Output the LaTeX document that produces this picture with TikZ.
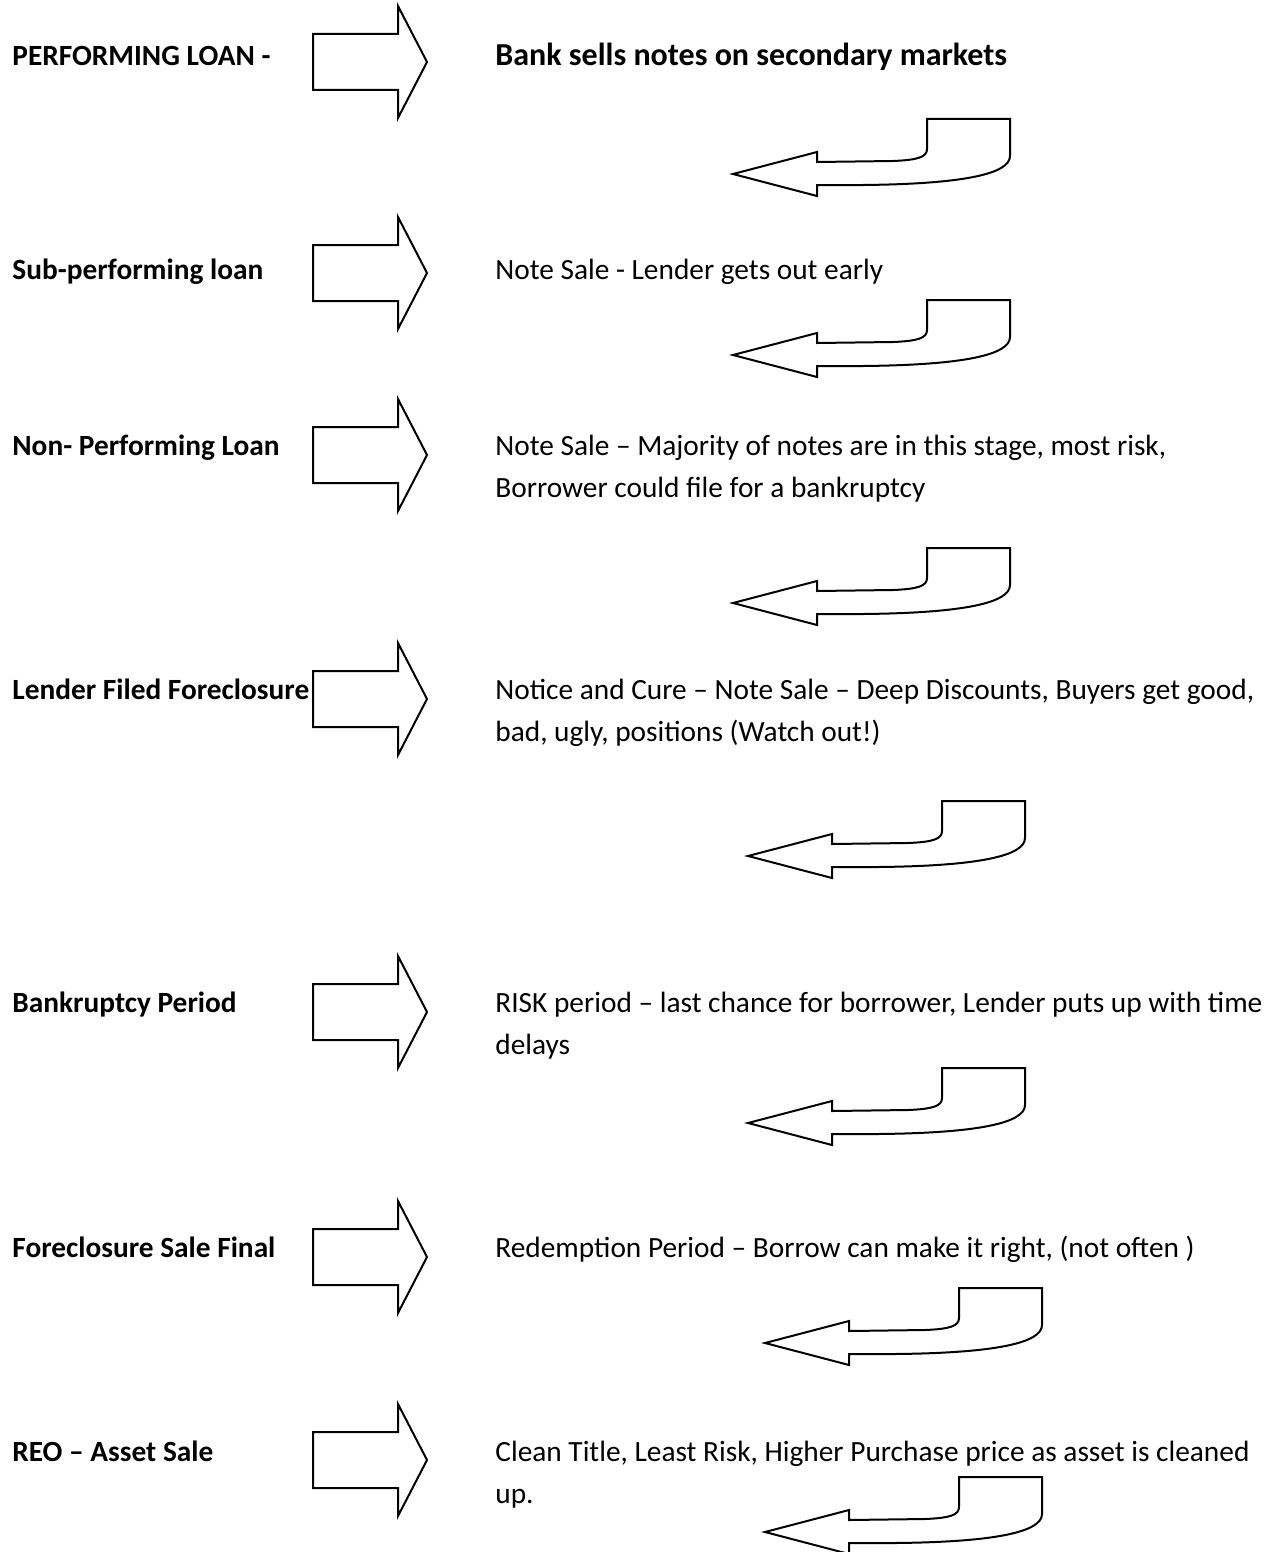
\documentclass[tikz,border=0pt]{standalone}
\usepackage{fontspec}
\setmainfont{Carlito}
\begin{document}
\begin{tikzpicture}[x=0.5pt,y=-0.5pt,
  shapeline/.style={draw=black,line width=1pt,line join=miter,fill=white},
  lbl/.style={anchor=base west,inner sep=0pt,font=\fontsize{14.67}{21}\selectfont\bfseries},
  desc/.style={anchor=base west,inner sep=0pt,font=\fontsize{14.67}{21}\selectfont},
  rarrow/.pic={\path[shapeline] (-114,-28) -- (-29,-28) -- (-29,-56) -- (0,0) -- (-29,56) -- (-29,28) -- (-114,28) -- cycle;},
  uturn/.pic={\path[shapeline] (0,0) -- (84,-22) -- (84,-12) -- (160,-13)
     .. controls (185,-14) and (194,-17) .. (194,-25) -- (194,-55) -- (277,-55) -- (277,-18)
     .. controls (277,0) and (230,10) .. (130,11) -- (84,11) -- (84,22) -- cycle;}
]
\useasboundingbox[fill=white] (0,0) rectangle (1267,1552);

% row 1
\node[lbl] (l1) at (12,66) {PERFORMING LOAN -};
\pic (r1) at (427,62) {rarrow};
\node[desc,font=\fontsize{16}{21}\selectfont\bfseries] (d1) at (495,66) {Bank sells notes on secondary markets};
\pic (c1) at (733,174) {uturn};

% row 2
\node[lbl] (l2) at (12,279) {Sub-performing loan};
\pic (r2) at (427,273) {rarrow};
\node[desc] (d2) at (495,279) {Note Sale - Lender gets out early};
\pic (c2) at (733,355) {uturn};

% row 3
\node[lbl] (l3) at (12,455) {Non- Performing Loan};
\pic (r3) at (427,455) {rarrow};
\node[desc] (d3) at (495,455) {\begin{tabular}[t]{@{}l@{}}Note Sale – Majority of notes are in this stage, most risk,\\Borrower could file for a bankruptcy\end{tabular}};
\pic (c3) at (733,603) {uturn};

% row 4
\node[lbl] (l4) at (12,699) {Lender Filed Foreclosure};
\pic (r4) at (427,699) {rarrow};
\node[desc] (d4) at (495,699) {\begin{tabular}[t]{@{}l@{}}Notice and Cure – Note Sale – Deep Discounts, Buyers get good,\\bad, ugly, positions (Watch out!)\end{tabular}};
\pic (c4) at (748,856) {uturn};

% row 5
\node[lbl] (l5) at (12,1012) {Bankruptcy Period};
\pic (r5) at (427,1012) {rarrow};
\node[desc] (d5) at (495,1012) {\begin{tabular}[t]{@{}l@{}}RISK period – last chance for borrower, Lender puts up with time\\delays\end{tabular}};
\pic (c5) at (748,1123) {uturn};

% row 6
\node[lbl] (l6) at (12,1257) {Foreclosure Sale Final};
\pic (r6) at (427,1257) {rarrow};
\node[desc] (d6) at (495,1257) {Redemption Period – Borrow can make it right, (not often )};
\pic (c6) at (765,1343) {uturn};

% row 7
\node[lbl] (l7) at (12,1461) {REO – Asset Sale};
\pic (r7) at (427,1460) {rarrow};
\node[desc] (d7) at (495,1461) {\begin{tabular}[t]{@{}l@{}}Clean Title, Least Risk, Higher Purchase price as asset is cleaned\\up.\end{tabular}};
\pic (c7) at (765,1532) {uturn};
\end{tikzpicture}
\end{document}
